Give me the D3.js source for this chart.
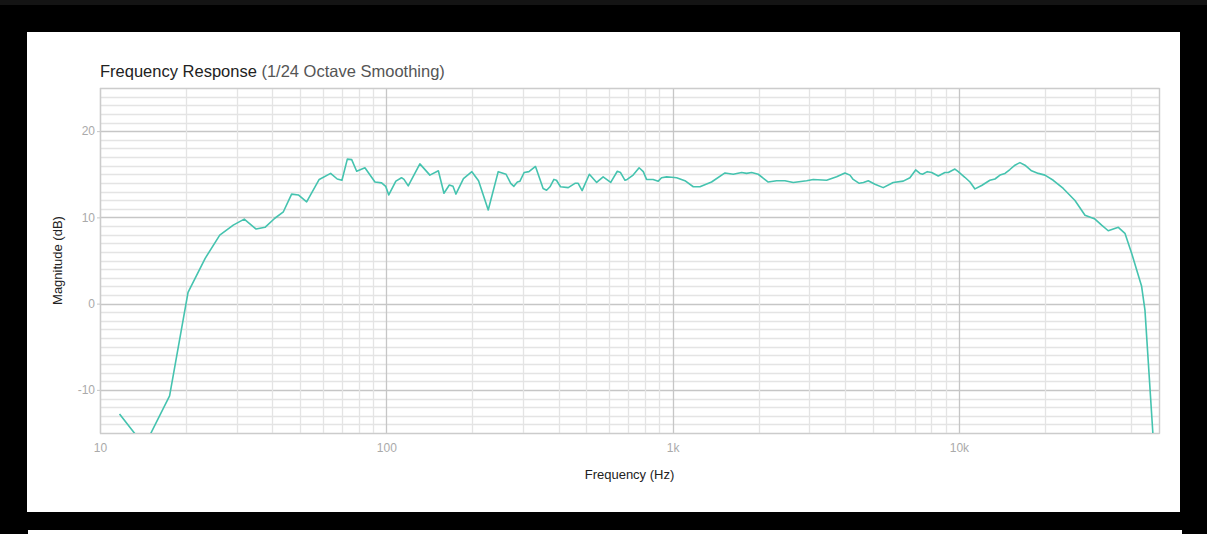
<!DOCTYPE html>
<html>
<head>
<meta charset="utf-8">
<script src="https://cdn.jsdelivr.net/npm/d3@7"></script>
<style>
  html, body { margin: 0; padding: 0; background: #000; }
  svg { display: block; }
</style>
</head>
<body>
<div id="chart"></div>
<script>
// frequency (Hz) and magnitude (dB)
var freq = [11.7, 14.3, 17.5, 20.3, 23.3, 26.2, 29.2, 31.9, 35.1, 37.7, 40.8, 43.7, 46.7, 49.3, 52.7, 58.3, 63.9, 67.4, 70.0, 73.1,
  75.7, 78.8, 84.2, 91.3, 96.3, 99.5, 102, 108, 113, 115.3, 119.3, 131, 142, 152, 159, 166, 171, 175, 186, 199,
  210, 227, 246, 262, 272, 279, 287, 293, 303, 315, 332, 353, 363, 373, 385, 393, 406, 432, 456, 468,
  483, 512, 543, 572, 608, 641, 658, 682, 694, 728, 764, 790, 811, 855, 891, 915, 953, 992, 1033, 1104,
  1181, 1246, 1368, 1524, 1629, 1742, 1813, 1888, 1991, 2158, 2308, 2468, 2639, 2938, 3099, 3451, 3741, 3999, 4164, 4274,
  4487, 4642, 4824, 5092, 5441, 5896, 6391, 6745, 7063, 7311, 7467, 7757, 8035, 8473, 8936, 9184, 9683, 9950, 10490, 10935,
  11380, 12008, 12830, 13366, 13920, 14490, 15070, 15700, 16340, 17014, 17940, 18940, 19980, 21360, 23150, 25440, 27570, 29880, 31520, 33240,
  36050, 38020, 40120, 43450, 44660, 47800];
var magnitude = [-12.8, -16.5, -10.7, 1.3, 5.25, 7.95, 9.1, 9.8, 8.65, 8.85, 9.9, 10.65, 12.7, 12.6, 11.8, 14.4, 15.1, 14.45, 14.3, 16.75,
  16.7, 15.35, 15.75, 14.1, 14.0, 13.6, 12.6, 14.2, 14.6, 14.4, 13.65, 16.2, 14.9, 15.4, 12.8, 13.75, 13.6, 12.7, 14.5, 15.3,
  14.25, 10.85, 15.3, 15.0, 13.95, 13.6, 14.1, 14.2, 15.2, 15.3, 15.9, 13.35, 13.15, 13.55, 14.4, 14.3, 13.55, 13.45, 13.95, 13.95,
  13.1, 15.0, 14.05, 14.7, 14.05, 15.35, 15.2, 14.3, 14.4, 14.9, 15.75, 15.3, 14.4, 14.4, 14.2, 14.6, 14.7, 14.65, 14.6, 14.25,
  13.55, 13.55, 14.1, 15.15, 15.0, 15.2, 15.1, 15.2, 15.0, 14.1, 14.25, 14.25, 14.05, 14.25, 14.4, 14.3, 14.7, 15.15, 14.9, 14.4,
  13.95, 14.05, 14.25, 13.85, 13.45, 14.05, 14.2, 14.6, 15.5, 15.1, 15.0, 15.3, 15.2, 14.8, 15.2, 15.2, 15.6, 15.3, 14.65, 14.1,
  13.3, 13.7, 14.3, 14.45, 14.9, 15.1, 15.55, 16.05, 16.35, 16.05, 15.4, 15.1, 14.9, 14.3, 13.35, 11.95, 10.25, 9.8, 9.1, 8.45,
  8.85, 8.15, 5.85, 2.05, -0.75, -16];

var xTicks = [10, 100, 1000, 10000];
var xTickLabels = ["10", "100", "1k", "10k"];
var yTicks = [-10, 0, 10, 20];

var data = freq.map((f, i) => ({f: f, db: magnitude[i]}));

var width = 1207, height = 534;
var margin = {top: 88, right: 48, bottom: 101, left: 100};

var xScale = d3.scaleLog()
  .domain([10, 50000])
  .range([margin.left, width - margin.right]);
var yScale = d3.scaleLinear()
  .domain([-15, 25])
  .range([height - margin.bottom, margin.top]);

var svg = d3.select("#chart").append("svg")
  .attr("width", width)
  .attr("height", height);

// black frame with white card
svg.append("rect").attr("width", width).attr("height", height).attr("fill", "#000");
svg.append("rect").attr("x", 0).attr("y", 0).attr("width", width).attr("height", 5).attr("fill", "#141414");
svg.append("rect").attr("x", 27).attr("y", 32).attr("width", 1153).attr("height", 480).attr("fill", "#fff");
svg.append("rect").attr("x", 28).attr("y", 530).attr("width", 1154).attr("height", 4).attr("fill", "#fff");

var x0 = xScale.range()[0], x1 = xScale.range()[1];
var y0 = yScale.range()[1], y1 = yScale.range()[0];
var px = v => Math.round(v) + 0.5;
var isDecade = d => xTicks.some(t => Math.abs(t - d) / t < 1e-6);

// grid
var grid = svg.append("g");
grid.selectAll(".hline")
  .data(d3.range(-15, 26))
  .join("line")
  .attr("x1", x0).attr("x2", x1)
  .attr("y1", d => px(yScale(d))).attr("y2", d => px(yScale(d)))
  .attr("stroke", d => d % 10 === 0 ? "#c6c6c6" : "#e4e4e4")
  .attr("stroke-width", 1.3);
grid.selectAll(".vline")
  .data(xScale.ticks())
  .join("line")
  .attr("x1", d => px(xScale(d))).attr("x2", d => px(xScale(d)))
  .attr("y1", y0).attr("y2", y1)
  .attr("stroke", d => isDecade(d) ? "#c6c6c6" : "#e4e4e4")
  .attr("stroke-width", 1.3);
svg.append("rect")
  .attr("x", px(x0)).attr("y", px(y0))
  .attr("width", Math.round(x1 - x0)).attr("height", Math.round(y1 - y0))
  .attr("fill", "none")
  .attr("stroke", "#cccccc")
  .attr("stroke-width", 1.3);

// axes
var font = "'Helvetica Neue', Helvetica, 'Liberation Sans', Arial, sans-serif";
var yAxis = svg.append("g")
  .attr("transform", `translate(${x0},0)`)
  .call(d3.axisLeft(yScale).tickValues(yTicks).tickSize(3).tickPadding(2)
    .tickFormat(d => String(d)));
yAxis.select(".domain").remove();
yAxis.selectAll("line").attr("stroke", "#c6c6c6");
yAxis.selectAll("text").attr("fill", "#aaa").attr("font-size", 12).attr("font-family", font);

var xAxis = svg.append("g")
  .attr("transform", `translate(0,${y1})`)
  .call(d3.axisBottom(xScale).tickValues(xTicks).tickSize(0).tickPadding(10)
    .tickFormat((d, i) => xTickLabels[i]));
xAxis.select(".domain").remove();
xAxis.selectAll("text").attr("fill", "#aaa").attr("font-size", 12).attr("font-family", font);

// curve
svg.append("clipPath").attr("id", "plotclip")
  .append("rect").attr("x", x0).attr("y", y0).attr("width", x1 - x0).attr("height", y1 - y0);
svg.append("path")
  .datum(data)
  .attr("clip-path", "url(#plotclip)")
  .attr("fill", "none")
  .attr("stroke", "#45c3af")
  .attr("stroke-width", 1.6)
  .attr("stroke-linejoin", "round")
  .attr("d", d3.line().x(d => xScale(d.f)).y(d => yScale(d.db)));

// titles
var title = svg.append("text")
  .attr("x", x0).attr("y", 77)
  .attr("font-size", 16.5).attr("font-family", font);
title.append("tspan").attr("fill", "#222").text("Frequency Response");
title.append("tspan").attr("fill", "#555").text(" (1/24 Octave Smoothing)");

svg.append("text")
  .attr("x", (x0 + x1) / 2).attr("y", 479)
  .attr("text-anchor", "middle")
  .attr("font-size", 13).attr("font-family", font).attr("fill", "#222")
  .text("Frequency (Hz)");

svg.append("text")
  .attr("x", 62).attr("y", (y0 + y1) / 2)
  .attr("text-anchor", "middle")
  .attr("transform", `rotate(-90,62,${(y0 + y1) / 2})`)
  .attr("font-size", 13).attr("font-family", font).attr("fill", "#222")
  .text("Magnitude (dB)");
</script>
</body>
</html>
